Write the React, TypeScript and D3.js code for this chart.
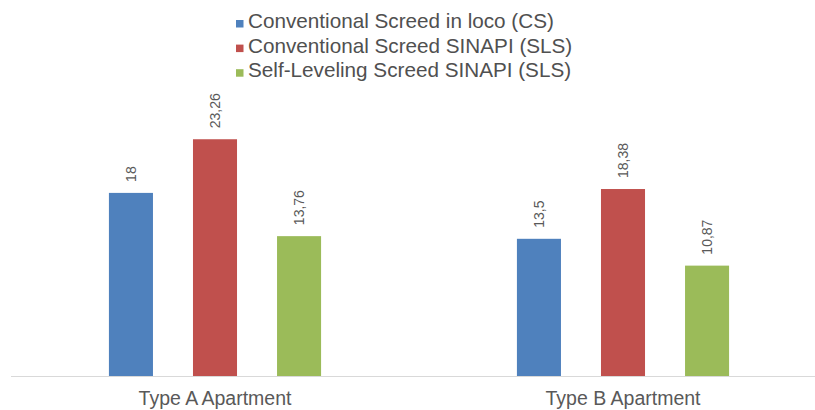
import React from "react";
import * as d3 from "d3";

const categories = ["Type A Apartment", "Type B Apartment"];
const seriesNames = [
  "Conventional Screed in loco (CS)",
  "Conventional Screed SINAPI (SLS)",
  "Self-Leveling Screed SINAPI (SLS)",
];
const seriesColors = ["#4F81BD", "#C0504D", "#9BBB59"];
const csValues = [18, 13.5];
const slsValues = [23.26, 18.38];
const selfValues = [13.76, 10.87];
const valueLabels = [
  ["18", "13,5"],
  ["23,26", "18,38"],
  ["13,76", "10,87"],
];

const W = 815;
const H = 410;

export default function App() {
  const series = [csValues, slsValues, selfValues];
  const x0 = d3
    .scaleBand<string>()
    .domain(categories)
    .range([11, 827])
    .paddingInner(0.48)
    .paddingOuter(0.24);
  const x1 = d3
    .scaleBand<number>()
    .domain(d3.range(seriesNames.length))
    .range([0, x0.bandwidth()])
    .paddingInner(0.476)
    .paddingOuter(0);
  const y = d3.scaleLinear().domain([0, 25]).range([376.5, 121.5]);

  const textColor = "#595959";
  const font = "'Liberation Sans', Arial, sans-serif";

  return (
    <div style={{ position: "absolute", left: 0, top: 0 }}>
      <svg width={W} height={H} style={{ display: "block" }} fontFamily={font}>
        <rect width={W} height={H} fill="#ffffff" />
        {/* legend */}
        {seriesNames.map((name, i) => (
          <g key={name} transform={`translate(236, ${28 + i * 24.6})`}>
            <rect x={0} y={-8} width={7.5} height={7.5} fill={seriesColors[i]} />
            <text x={12} y={0} fontSize={20.7} fill="#505050">
              {name}
            </text>
          </g>
        ))}
        {/* bars */}
        {categories.map((cat, ci) => (
          <g key={cat} transform={`translate(${x0(cat)},0)`}>
            {series.map((vals, si) => {
              const bx = x1(si)!;
              const top = y(vals[ci]);
              const cx = bx + x1.bandwidth() / 2;
              return (
                <g key={si}>
                  <rect
                    x={bx}
                    y={top}
                    width={x1.bandwidth()}
                    height={y(0) - top}
                    fill={seriesColors[si]}
                  />
                  <text
                    transform={`translate(${cx},${top - 11}) rotate(-90)`}
                    fontSize={14}
                    fill={textColor}
                    dominantBaseline="central"
                    textAnchor="start"
                  >
                    {valueLabels[si][ci]}
                  </text>
                </g>
              );
            })}
          </g>
        ))}
        {/* axis line */}
        <line x1={11} x2={W} y1={y(0)} y2={y(0)} stroke="#d9d9d9" strokeWidth={1.2} />
        {categories.map((cat) => (
          <text
            key={cat}
            x={x0(cat)! + x0.bandwidth() / 2}
            y={405}
            fontSize={19.5}
            fill={textColor}
            textAnchor="middle"
          >
            {cat}
          </text>
        ))}
      </svg>
    </div>
  );
}
